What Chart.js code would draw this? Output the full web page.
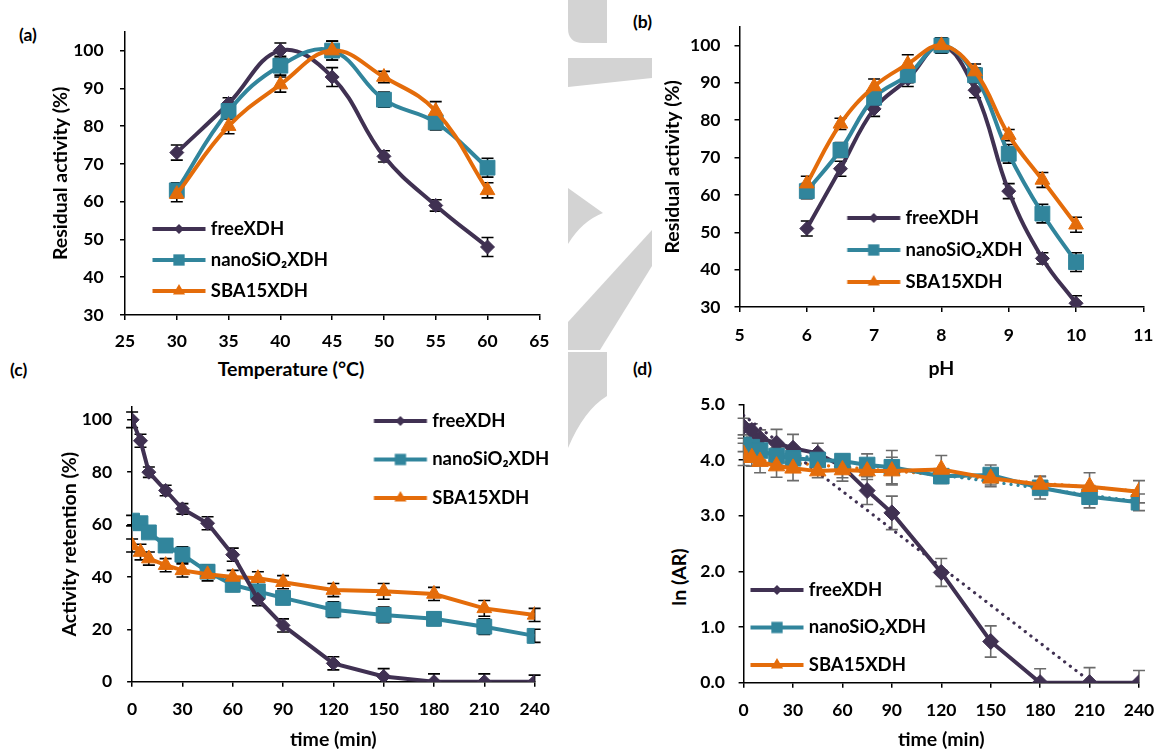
<!DOCTYPE html>
<html>
<head>
<meta charset="utf-8">
<script src="https://cdn.jsdelivr.net/npm/chart.js@4.4.1/dist/chart.umd.min.js"></script>
<style>
  html, body { margin: 0; padding: 0; background: #fff; }
  #page { position: relative; width: 1166px; height: 749px; overflow: hidden; font-family: Lato, "Open Sans", sans-serif; font-weight: bold; color: #000; }
  #page canvas { position: absolute; }
  .lbl { position: absolute; font-size: 17.5px; line-height: 20px; white-space: nowrap; }
  .ttl { position: absolute; font-size: 19.5px; line-height: 23px; white-space: nowrap; transform: translate(-50%, -50%); }
  #wm { position: absolute; left: 0; top: 0; }
</style>
</head>
<body>
<div id="page">
  <svg id="wm" width="1166" height="749">
    <g fill="#d3d3d3">
      <path d="M568,0 L607,0 L607,43 L583,43 Q568,43 568,28 Z"/>
      <path d="M568,58 L652,58 L652,78 L568,87 Z"/>
      <path d="M568,188 L603,213 Q582,221 568,244 Z"/>
      <path d="M652,230 L652,266 L600,350 L568,350 L568,322 Z"/>
      <path d="M568,352 L607,352 L607,396 Q584,410 568,448 Z"/>
    </g>
  </svg>

  <div class="lbl" style="left:19px;top:25px">(a)</div>
  <div class="lbl" style="left:633px;top:12px">(b)</div>
  <div class="lbl" style="left:10px;top:360px">(c)</div>
  <div class="lbl" style="left:633px;top:359px">(d)</div>
  <div class="ttl" style="left:291px;top:368px">Temperature (°C)</div>
  <div class="ttl" style="left:678px;top:577px;transform:translate(-50%,-50%) rotate(-90deg)">ln (AR)</div>

  <canvas id="chartA" width="590" height="360" style="left:0;top:0;width:590px;height:360px"></canvas>
  <canvas id="chartB" width="576" height="385" style="left:590px;top:0;width:576px;height:385px"></canvas>
  <canvas id="chartC" width="590" height="396" style="left:0;top:355px;width:590px;height:396px"></canvas>
  <canvas id="chartD" width="576" height="396" style="left:590px;top:355px;width:576px;height:396px"></canvas>
</div>

<script>
// (a) temperature
const tempX = [30, 35, 40, 45, 50, 55, 60];
const tempFree = [73, 86, 100, 93, 72, 59, 48];
const tempNano = [63, 84, 96, 100, 87, 81, 69];
const tempSba = [62, 80, 91, 100, 93, 84, 63];
const tempFreeErr = [2, 1.5, 2, 2.5, 1.5, 1.5, 2.5];
const tempNanoErr = [2, 2, 2.5, 2.5, 2, 2, 2.5];
const tempSbaErr = [2, 2, 2, 2.5, 1.5, 2.5, 2];

// (b) pH
const phX = [6, 6.5, 7, 7.5, 8, 8.5, 9, 9.5, 10];
const phFree = [51, 67, 83, 91, 100, 88, 61, 43, 31];
const phNano = [61, 72, 86, 92, 100, 92, 71, 55, 42];
const phSba = [63, 79, 89, 95, 100, 93, 76, 64, 52];
const phFreeErr = [2, 2, 2, 2, 2, 2, 2, 1.5, 2];
const phNanoErr = [2, 2, 2, 2, 2, 2, 2.5, 2.5, 2.5];
const phSbaErr = [2, 1.5, 2, 2.5, 2, 2, 1.5, 2, 2];

// (c) activity retention over time
const timeX = [0, 5, 10, 20, 30, 45, 60, 75, 90, 120, 150, 180, 210, 240];
const retFree = [100, 92, 80, 73, 66, 60.5, 48.5, 31.5, 21.5, 7, 2, 0, 0, 0];
const retNano = [61.5, 60.5, 57, 52, 48.5, 42, 37, 34.5, 32, 27.5, 25.5, 24, 21, 17.5];
const retSba = [52, 49.5, 47, 44.5, 42.5, 41, 40, 39.5, 38, 35, 34.5, 33.5, 28, 25.5];
const retFreeErr = [3, 2.5, 2, 2, 2, 2.5, 2.5, 2.5, 2.5, 2.5, 3, 3, 3, 2.5];
const retNanoErr = [2, 2, 2, 2.5, 3, 2.5, 2.5, 2.5, 2.5, 3, 3, 2.5, 3, 2.5];
const retSbaErr = [2.5, 3, 2.5, 2.5, 2.5, 2.5, 2.5, 2.5, 2.5, 2.5, 3, 2.5, 3, 2.5];

// (d) ln(AR) over time, with dotted linear trends
const lnFree = [4.6, 4.53, 4.39, 4.3, 4.21, 4.12, 3.88, 3.45, 3.05, 1.98, 0.74, 0, 0, 0];
const lnNano = [4.27, 4.23, 4.17, 4.07, 4.03, 4.0, 3.98, 3.91, 3.87, 3.71, 3.73, 3.5, 3.34, 3.24];
const lnSba = [4.1, 4.04, 3.97, 3.89, 3.85, 3.8, 3.82, 3.8, 3.8, 3.83, 3.67, 3.56, 3.52, 3.43];
const lnFreeErr = [0.15, 0.12, 0.15, 0.25, 0.25, 0.18, 0.2, 0.25, 0.3, 0.25, 0.28, 0.25, 0.27, 0.22];
const lnNanoErr = [0.12, 0.12, 0.12, 0.15, 0.1, 0.12, 0.12, 0.2, 0.3, 0.12, 0.18, 0.2, 0.2, 0.15];
const lnSbaErr = [0.2, 0.15, 0.2, 0.2, 0.22, 0.12, 0.2, 0.15, 0.25, 0.25, 0.15, 0.15, 0.25, 0.2];
const trendX = [0, 240];
const trendFree = [4.8, -0.65];
const trendNano = [4.21, 3.25];
const trendSba = [4.02, 3.44];

const PURPLE = '#403152';
const TEAL = '#31859c';
const ORANGE = '#e46c0a';
const LEGEND_SIZE = 18.5;

Chart.defaults.font.family = 'Lato, "Open Sans", sans-serif';
Chart.defaults.font.size = 17.5;
Chart.defaults.font.weight = 'bold';
Chart.defaults.color = '#000';
Chart.defaults.animation = false;

function pts(xs, ys) {
  return xs.map((x, i) => ({ x: x, y: ys[i] }));
}

// legend sample: line with the marker in its middle
function legendIcon(color, style, r) {
  const c = document.createElement('canvas');
  c.width = 60;
  c.height = 22;
  const g = c.getContext('2d');
  g.strokeStyle = color;
  g.lineWidth = 4;
  g.beginPath();
  g.moveTo(5.5, 11);
  g.lineTo(58.5, 11);
  g.stroke();
  g.fillStyle = color;
  Chart.helpers.drawPoint(g, { pointStyle: style, radius: r, rotation: 0, borderWidth: 0 }, 32, 11);
  return c;
}

const iconFree = legendIcon(PURPLE, 'rectRot', 5);
const iconNano = legendIcon(TEAL, 'rect', 8);
const iconSba = legendIcon(ORANGE, 'triangle', 7);

function series(label, xs, ys, errs, color, style, r, tension, order, icon) {
  return {
    label: label,
    data: pts(xs, ys),
    errors: errs,
    legendImg: icon,
    borderColor: color,
    backgroundColor: color,
    borderWidth: 4,
    pointStyle: style,
    pointRadius: r,
    pointHoverRadius: r,
    pointBackgroundColor: color,
    pointBorderColor: color,
    pointBorderWidth: 1,
    tension: tension,
    order: order
  };
}

function trend(xs, ys, color) {
  return {
    label: 'trend',
    data: pts(xs, ys),
    borderColor: color,
    borderWidth: 3.2,
    borderDash: [0.1, 7],
    borderCapStyle: 'round',
    pointRadius: 0,
    tension: 0,
    clip: 0,
    order: 5
  };
}

// error bars, drawn under the lines
const errorBars = {
  id: 'errorBars',
  beforeDatasetsDraw(chart, args, opts) {
    const ctx = chart.ctx;
    const ys = chart.scales.y;
    ctx.save();
    ctx.beginPath();
    ctx.rect(0, 0, chart.width, chart.chartArea.bottom);
    ctx.clip();
    ctx.strokeStyle = opts.color;
    ctx.lineWidth = 1.6;
    chart.data.datasets.forEach((ds, i) => {
      if (!ds.errors) return;
      chart.getDatasetMeta(i).data.forEach((pt, j) => {
        const v = ds.data[j].y;
        const e = ds.errors[j];
        const t = ys.getPixelForValue(v + e);
        const b = ys.getPixelForValue(v - e);
        ctx.beginPath();
        ctx.moveTo(pt.x, t);
        ctx.lineTo(pt.x, b);
        ctx.moveTo(pt.x - 6, t);
        ctx.lineTo(pt.x + 6, t);
        ctx.moveTo(pt.x - 6, b);
        ctx.lineTo(pt.x + 6, b);
        ctx.stroke();
      });
    });
    ctx.restore();
  }
};

// move the legend box to where the original has it
const legendAt = {
  id: 'legendAt',
  afterLayout(chart, args, opts) {
    const lg = chart.legend;
    if (!lg || opts.x == null) return;
    const pad = lg.options.labels.padding;
    lg.left = opts.x - pad;
    lg.top = opts.y - LEGEND_SIZE / 2 - pad;
    lg.right = lg.left + lg.width;
    lg.bottom = lg.top + lg.height;
  }
};

function axis(min, max, step, o) {
  const a = {
    type: 'linear',
    min: min,
    max: max,
    ticks: { stepSize: step, padding: o.pad, includeBounds: false, autoSkip: false, maxRotation: 0 },
    grid: { drawOnChartArea: false, tickLength: 5, color: '#000', lineWidth: 1.5 },
    border: { color: '#000', width: 1.5 },
    title: { display: false }
  };
  if (o.fmt) a.ticks.callback = o.fmt;
  if (o.title) {
    a.title = { display: true, text: o.title, font: { size: 19.5, weight: 'bold' }, padding: o.titlePad };
  }
  if (o.w != null) a.afterFit = s => { s.width = o.w; };
  if (o.h != null) a.afterFit = s => { s.height = o.h; };
  return a;
}

function makeChart(id, datasets, scales, pad, legendPos, legendGap, errColor) {
  return new Chart(document.getElementById(id), {
    type: 'line',
    data: { datasets: datasets },
    options: {
      responsive: false,
      devicePixelRatio: 1,
      layout: { padding: pad },
      scales: scales,
      plugins: {
        tooltip: { enabled: false },
        legend: {
          position: 'chartArea',
          align: 'start',
          labels: {
            usePointStyle: true,
            pointStyleWidth: 49,
            padding: legendGap,
            font: { size: LEGEND_SIZE, weight: 'bold' },
            color: '#000',
            generateLabels: chart => chart.data.datasets
              .map((d, i) => ({ d: d, i: i }))
              .filter(o => o.d.legendImg)
              .map(o => ({
                text: o.d.label,
                pointStyle: o.d.legendImg,
                fillStyle: o.d.borderColor,
                strokeStyle: o.d.borderColor,
                lineWidth: 0,
                hidden: false,
                datasetIndex: o.i,
                fontColor: '#000'
              }))
          }
        },
        legendAt: legendPos,
        errorBars: { color: errColor }
      }
    },
    plugins: [errorBars, legendAt]
  });
}

// (a)
makeChart('chartA', [
  series('freeXDH', tempX, tempFree, tempFreeErr, PURPLE, 'rectRot', 7, 0.4, 2, iconFree),
  series('nanoSiO₂XDH', tempX, tempNano, tempNanoErr, TEAL, 'rect', 10.5, 0.4, 1, iconNano),
  series('SBA15XDH', tempX, tempSba, tempSbaErr, ORANGE, 'triangle', 8.5, 0.4, 0, iconSba)
], {
  x: axis(25, 65, 5, { pad: 11.2, h: 45 }),
  y: axis(30, 105, 10, { pad: 16.4, w: 125, title: 'Residual activity (%)', titlePad: { top: 48.7, bottom: 0 } })
}, { top: 31.7, right: 50.7, bottom: 0, left: 0 }, { x: 152.5, y: 229 }, 12.5, '#000');

// (b)
makeChart('chartB', [
  series('freeXDH', phX, phFree, phFreeErr, PURPLE, 'rectRot', 7, 0.4, 2, iconFree),
  series('nanoSiO₂XDH', phX, phNano, phNanoErr, TEAL, 'rect', 10.5, 0.4, 1, iconNano),
  series('SBA15XDH', phX, phSba, phSbaErr, ORANGE, 'triangle', 8.5, 0.4, 0, iconSba)
], {
  x: axis(5, 11, 1, { pad: 12.5, h: 78, title: 'pH', titlePad: { top: 0, bottom: 4.3 } }),
  y: axis(30, 105, 10, { pad: 14, w: 149.5, title: 'Residual activity (%)', titlePad: { top: 71, bottom: 0 } })
}, { top: 26.7, right: 11.4, bottom: 0, left: 0 }, { x: 257.2, y: 218 }, 13.5, '#000');

// (c)
makeChart('chartC', [
  series('freeXDH', timeX, retFree, retFreeErr, PURPLE, 'rectRot', 7, 0, 0, iconFree),
  series('nanoSiO₂XDH', timeX, retNano, retNanoErr, TEAL, 'rect', 10.5, 0, 2, iconNano),
  series('SBA15XDH', timeX, retSba, retSbaErr, ORANGE, 'triangle', 8.5, 0, 1, iconSba)
], {
  x: axis(0, 240, 30, { pad: 11.8, h: 69.3, title: 'time (min)', titlePad: { top: 0, bottom: 0 } }),
  y: axis(0, 105, 20, { pad: 15, w: 132.1, title: 'Activity retention (%)', titlePad: { top: 57.9, bottom: 0 } })
}, { top: 51.7, right: 55.4, bottom: 0, left: 0 }, { x: 373.9, y: 66 }, 20, '#000');

// (d)
makeChart('chartD', [
  series('freeXDH', timeX, lnFree, lnFreeErr, PURPLE, 'rectRot', 8, 0, 2, iconFree),
  series('nanoSiO₂XDH', timeX, lnNano, lnNanoErr, TEAL, 'rect', 11, 0, 1, iconNano),
  series('SBA15XDH', timeX, lnSba, lnSbaErr, ORANGE, 'triangle', 9.5, 0, 0, iconSba),
  trend(trendX, trendFree, PURPLE),
  trend(trendX, trendNano, TEAL),
  trend(trendX, trendSba, ORANGE)
], {
  x: axis(0, 240, 30, { pad: 11.8, h: 68.3, title: 'time (min)', titlePad: { top: 0, bottom: 0 } }),
  y: axis(0, 5, 1, { pad: 13.8, w: 153.6, fmt: v => v.toFixed(1) })
}, { top: 49.3, right: 16.9, bottom: 0, left: 0 }, { x: 160.5, y: 235 }, 19, '#6b6b6b');
</script>
</body>
</html>
